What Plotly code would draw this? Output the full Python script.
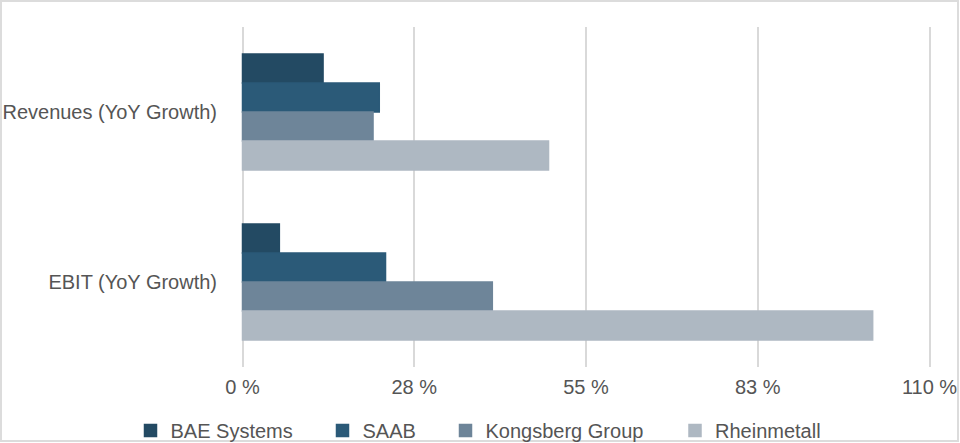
import plotly.graph_objects as go

# ---- data ----
categories = ["Revenues (YoY Growth)", "EBIT (YoY Growth)"]
series_names = ["BAE Systems", "SAAB", "Kongsberg Group", "Rheinmetall"]
bae_systems = [12.9, 5.9]
saab = [21.9, 22.9]
kongsberg_group = [20.9, 40.0]
rheinmetall = [49.0, 100.9]
tick_values = [0, 27.5, 55, 82.5, 110]
tick_labels = ["0 %", "28 %", "55 %", "83 %", "110 %"]

series_values = [bae_systems, saab, kongsberg_group, rheinmetall]
colors = ["#234a63", "#2b5a78", "#6e8599", "#aeb8c2"]

W, H = 960, 443
L, R, T, B = 240, 28, 27, 76
PW, PH = W - L - R, H - T - B

def px_x(p):
    return (p - L) / PW

def px_y(p):
    return (H - B - p) / PH

font_family = "Liberation Sans, Arial, sans-serif"
text_color = "#555555"
FS = 20

legend_origin_px = [130.5, 322.5, 445.5, 675]
legend_y = px_y(430.5)

fig = go.Figure()
for i, (name, vals, col) in enumerate(zip(series_names, series_values, colors)):
    lg = "legend" if i == 0 else f"legend{i+1}"
    fig.add_trace(go.Bar(
        y=categories, x=vals, name=name, orientation="h",
        marker=dict(color=col, line=dict(color=col, width=1.5)),
        legend=lg, showlegend=True,
    ))

layout_legends = {}
for i, lx in enumerate(legend_origin_px):
    key = "legend" if i == 0 else f"legend{i+1}"
    layout_legends[key] = dict(
        x=px_x(lx), xanchor="left", y=legend_y, yanchor="middle",
        orientation="h", bgcolor="rgba(0,0,0,0)", borderwidth=0,
        font=dict(family=font_family, size=FS, color=text_color),
    )

fig.update_layout(
    width=W, height=H, showlegend=True,
    margin=dict(l=L, r=R, t=T, b=B, pad=0, autoexpand=False),
    paper_bgcolor="white", plot_bgcolor="white",
    barmode="group", bargap=0.318, bargroupgap=0,
    font=dict(family=font_family, size=FS, color=text_color),
    xaxis=dict(
        range=[-0.4, 110.4], tickvals=tick_values, ticktext=tick_labels,
        showgrid=True, gridcolor="#d9d9d9", gridwidth=2,
        zeroline=False, showline=False, ticks="",
        ticklabelstandoff=6,
        tickfont=dict(family=font_family, size=FS, color=text_color),
        fixedrange=True,
    ),
    yaxis=dict(
        autorange="reversed", categoryorder="array", categoryarray=categories,
        showgrid=False, zeroline=False, showline=False, ticks="",
        ticklabelstandoff=22,
        tickfont=dict(family=font_family, size=FS, color=text_color),
        fixedrange=True,
    ),
    shapes=[dict(
        type="rect", xref="paper", yref="paper",
        x0=px_x(1), x1=px_x(958), y0=px_y(441), y1=px_y(1),
        line=dict(color="#dcdcdc", width=2), fillcolor="rgba(0,0,0,0)",
        layer="below",
    )],
    **layout_legends,
)

fig.write_html(
    "out.html",
    config={"displayModeBar": False},
    post_script="document.body.style.margin='0';document.body.style.overflow='hidden';",
)
